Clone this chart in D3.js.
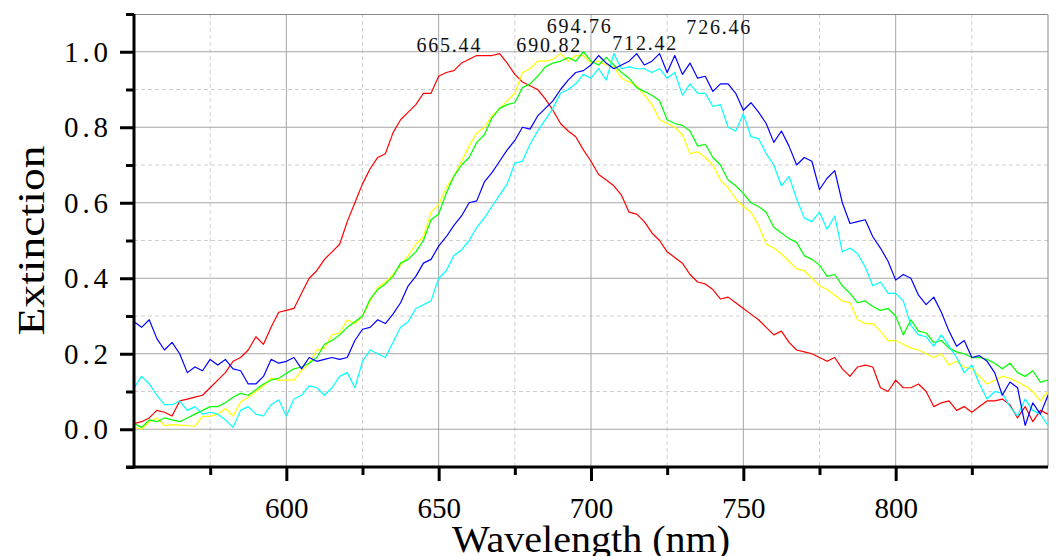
<!DOCTYPE html>
<html>
<head>
<meta charset="utf-8">
<script src="https://cdn.jsdelivr.net/npm/d3@7"></script>
<style>
  body { margin: 0; background: #fff; }
  svg { display: block; font-family: "Liberation Serif", "DejaVu Serif", serif; }
</style>
</head>
<body>
<svg id="chart" width="1056" height="556"></svg>
<script>
// wavelength samples (nm)
const wavelengths = [550,552.5,555,557.5,560,562.5,565,567.5,570,572.5,575,577.5,580,582.5,585,587.5,590,592.5,595,597.5,600,
  602.5,605,607.5,610,612.5,615,617.5,620,622.5,625,627.5,630,632.5,635,637.5,640,642.5,645,647.5,650,
  652.5,655,657.5,660,662.5,665,667.5,670,672.5,675,677.5,680,682.5,685,687.5,690,692.5,695,697.5,700,
  702.5,705,707.5,710,712.5,715,717.5,720,722.5,725,727.5,730,732.5,735,737.5,740,742.5,745,747.5,750,
  752.5,755,757.5,760,762.5,765,767.5,770,772.5,775,777.5,780,782.5,785,787.5,790,792.5,795,797.5,800,
  802.5,805,807.5,810,812.5,815,817.5,820,822.5,825,827.5,830,832.5,835,837.5,840,842.5,845,847.5,850];

// extinction, one list per curve
const redValues = [0.015,0.02,0.03,0.05,0.045,0.035,0.075,0.08,0.085,0.09,0.11,0.13,0.15,0.18,0.19,0.21,0.245,0.225,0.27,0.31,0.315,
  0.32,0.36,0.40,0.42,0.45,0.47,0.49,0.55,0.60,0.65,0.69,0.72,0.73,0.785,0.82,0.84,0.86,0.89,0.89,0.935,
  0.945,0.95,0.97,0.98,0.99,0.99,0.99,0.995,0.97,0.94,0.92,0.91,0.90,0.875,0.845,0.81,0.79,0.775,0.74,0.71,
  0.675,0.66,0.645,0.62,0.575,0.57,0.55,0.52,0.50,0.47,0.455,0.44,0.41,0.39,0.385,0.37,0.345,0.35,0.335,0.32,
  0.305,0.29,0.27,0.25,0.26,0.23,0.21,0.205,0.20,0.19,0.18,0.19,0.16,0.14,0.165,0.17,0.165,0.11,0.10,0.13,
  0.11,0.11,0.12,0.10,0.06,0.07,0.075,0.05,0.06,0.045,0.06,0.075,0.075,0.08,0.065,0.03,0.06,0.02,0.05,0.04];
const yellowValues = [0.005,0.0,0.02,0.03,0.01,0.012,0.011,0.01,0.008,0.034,0.034,0.04,0.055,0.035,0.072,0.085,0.10,0.115,0.135,0.13,0.13,
  0.13,0.155,0.175,0.21,0.215,0.25,0.255,0.29,0.28,0.30,0.34,0.375,0.39,0.41,0.435,0.46,0.49,0.51,0.575,0.595,
  0.64,0.67,0.71,0.75,0.785,0.80,0.83,0.85,0.87,0.89,0.945,0.955,0.975,0.975,0.98,0.995,0.975,0.99,0.99,0.97,
  0.975,0.965,0.96,0.93,0.92,0.91,0.885,0.86,0.82,0.81,0.80,0.78,0.73,0.735,0.72,0.70,0.66,0.64,0.61,0.59,
  0.575,0.54,0.49,0.48,0.465,0.445,0.425,0.42,0.40,0.38,0.37,0.355,0.34,0.335,0.29,0.28,0.28,0.26,0.235,0.235,
  0.225,0.215,0.21,0.20,0.19,0.20,0.17,0.18,0.165,0.16,0.14,0.12,0.13,0.14,0.135,0.125,0.115,0.10,0.075,0.10];
const greenValues = [0.015,0.005,0.025,0.02,0.03,0.025,0.02,0.03,0.04,0.05,0.06,0.06,0.07,0.085,0.095,0.09,0.105,0.12,0.13,0.135,0.148,
  0.16,0.165,0.175,0.19,0.225,0.235,0.25,0.27,0.285,0.30,0.345,0.37,0.385,0.405,0.44,0.45,0.47,0.50,0.555,0.57,
  0.625,0.67,0.70,0.72,0.76,0.78,0.825,0.85,0.86,0.865,0.905,0.915,0.935,0.96,0.97,0.975,0.985,0.975,1.0,0.975,
  0.965,0.985,0.965,0.945,0.93,0.905,0.895,0.885,0.87,0.82,0.81,0.805,0.79,0.75,0.755,0.72,0.70,0.66,0.645,0.625,
  0.60,0.59,0.575,0.535,0.52,0.505,0.495,0.46,0.45,0.435,0.405,0.41,0.38,0.36,0.335,0.34,0.325,0.315,0.32,0.30,
  0.25,0.29,0.26,0.255,0.23,0.235,0.215,0.205,0.20,0.19,0.19,0.185,0.175,0.16,0.175,0.15,0.14,0.155,0.125,0.13];
const cyanValues = [0.11,0.14,0.12,0.09,0.065,0.065,0.075,0.05,0.06,0.04,0.045,0.04,0.025,0.005,0.05,0.06,0.04,0.035,0.065,0.078,0.035,
  0.08,0.09,0.115,0.11,0.09,0.11,0.14,0.15,0.11,0.18,0.21,0.20,0.19,0.23,0.27,0.285,0.32,0.33,0.34,0.40,
  0.42,0.46,0.475,0.50,0.535,0.56,0.59,0.62,0.65,0.705,0.71,0.755,0.79,0.82,0.85,0.89,0.90,0.915,0.94,0.93,
  0.955,0.925,0.995,0.955,0.96,0.955,0.955,0.945,0.955,0.93,0.945,0.885,0.915,0.89,0.89,0.855,0.86,0.80,0.79,0.835,
  0.775,0.77,0.73,0.70,0.645,0.67,0.61,0.56,0.55,0.575,0.53,0.565,0.47,0.48,0.465,0.43,0.38,0.39,0.36,0.36,
  0.34,0.275,0.25,0.245,0.22,0.25,0.22,0.19,0.15,0.17,0.12,0.08,0.10,0.095,0.06,0.035,0.08,0.05,0.04,0.01];
const blueValues = [0.285,0.27,0.29,0.24,0.21,0.23,0.20,0.15,0.165,0.155,0.185,0.17,0.185,0.16,0.155,0.12,0.12,0.14,0.185,0.175,0.18,
  0.19,0.16,0.19,0.18,0.185,0.19,0.185,0.19,0.235,0.265,0.27,0.29,0.28,0.305,0.335,0.38,0.405,0.44,0.45,0.485,
  0.51,0.54,0.565,0.60,0.605,0.655,0.68,0.71,0.74,0.765,0.80,0.795,0.83,0.85,0.87,0.90,0.925,0.945,0.95,0.965,
  0.99,0.97,0.955,0.965,0.975,0.995,0.965,0.975,0.995,0.945,0.99,0.94,0.97,0.93,0.935,0.895,0.915,0.915,0.89,0.845,
  0.865,0.84,0.81,0.76,0.79,0.75,0.70,0.72,0.71,0.635,0.665,0.685,0.60,0.545,0.55,0.555,0.51,0.48,0.445,0.395,
  0.41,0.40,0.355,0.33,0.35,0.31,0.26,0.22,0.235,0.19,0.195,0.18,0.15,0.09,0.125,0.11,0.01,0.07,0.04,0.09];

const seriesColors = ["#ff0000", "#ffff00", "#00ff00", "#00ffff", "#0000ff"];

// tick values
const xMajorTicks = [600, 650, 700, 750, 800];
const xMinorTicks = [575, 625, 675, 725, 775, 825];
const yMajorTicks = [0, 0.2, 0.4, 0.6, 0.8, 1.0];
const yMinorTicks = [-0.1, 0.1, 0.3, 0.5, 0.7, 0.9, 1.1];

// peak annotations
const peakLabels = ["665.44", "690.82", "694.76", "712.42", "726.46"];
const peakLabelX = [653.2, 686, 696, 717.5, 741.8];
const peakLabelY = [1.0, 1.0, 1.05, 1.005, 1.048];

const margin = {top: 14, right: 8, bottom: 89, left: 134};

function drawChart(){
    const svg = d3.select("#chart");
    const width = +svg.attr("width");
    const height = +svg.attr("height");
    const innerWidth = width - margin.left - margin.right;
    const innerHeight = height - margin.top - margin.bottom;

    const x = d3.scaleLinear().domain([550, 850]).range([0, innerWidth]);
    const y = d3.scaleLinear().domain([-0.1, 1.1]).range([innerHeight, 0]);

    const g = svg.append("g")
        .attr("transform", `translate(${margin.left}, ${margin.top})`);

    // grid - dashed minor first, solid major on top
    g.append("g").selectAll("line")
        .data(xMinorTicks)
        .join("line")
        .attr("x1", d => x(d)).attr("x2", d => x(d))
        .attr("y1", 0).attr("y2", innerHeight)
        .attr("stroke", "#cfcfcf").attr("stroke-dasharray", "4,3");
    g.append("g").selectAll("line")
        .data(yMinorTicks.filter(d => d > -0.1 && d < 1.1))
        .join("line")
        .attr("x1", 0).attr("x2", innerWidth)
        .attr("y1", d => y(d)).attr("y2", d => y(d))
        .attr("stroke", "#cfcfcf").attr("stroke-dasharray", "4,3");
    g.append("g").selectAll("line")
        .data(xMajorTicks)
        .join("line")
        .attr("x1", d => x(d)).attr("x2", d => x(d))
        .attr("y1", 0).attr("y2", innerHeight)
        .attr("stroke", "#a6a6a6");
    g.append("g").selectAll("line")
        .data(yMajorTicks)
        .join("line")
        .attr("x1", 0).attr("x2", innerWidth)
        .attr("y1", d => y(d)).attr("y2", d => y(d))
        .attr("stroke", "#a6a6a6");

    // top and right frame
    g.append("path")
        .attr("d", `M0,0.5H${innerWidth}V${innerHeight}`)
        .attr("fill", "none")
        .attr("stroke", "#888");

    // curves
    g.append("clipPath").attr("id", "plotclip")
        .append("rect").attr("width", innerWidth).attr("height", innerHeight);

    const allSeries = [redValues, yellowValues, greenValues, cyanValues, blueValues];
    const line = d3.line()
        .x((d, i) => x(wavelengths[i]))
        .y(d => y(d));

    g.append("g")
        .attr("clip-path", "url(#plotclip)")
        .selectAll("path")
        .data(allSeries)
        .join("path")
        .attr("d", d => line(d))
        .attr("fill", "none")
        .attr("stroke", (d, i) => seriesColors[i])
        .attr("stroke-width", 1.2)
        .attr("stroke-linejoin", "round");

    // axes - minor ticks
    g.append("g")
        .attr("transform", `translate(0, ${innerHeight})`)
        .call(d3.axisBottom(x).tickValues(xMinorTicks).tickSize(8).tickFormat(""))
        .call(a => a.select(".domain").remove())
        .selectAll("line").attr("stroke-width", 3);
    g.append("g")
        .call(d3.axisLeft(y).tickValues(yMinorTicks).tickSize(8).tickFormat(""))
        .call(a => a.select(".domain").remove())
        .selectAll("line").attr("stroke-width", 3);

    // axes - major ticks with labels
    const xAxis = g.append("g")
        .attr("transform", `translate(0, ${innerHeight})`)
        .call(d3.axisBottom(x).tickValues(xMajorTicks).tickSize(14).tickPadding(16).tickFormat(d3.format("d")));
    xAxis.select(".domain").attr("d", `M-8,0H${innerWidth}`).attr("stroke-width", 3);
    xAxis.selectAll("line").attr("stroke-width", 3);
    xAxis.selectAll("text")
        .attr("font-family", "Liberation Serif")
        .attr("font-size", 29)
        .attr("fill", "#000");

    const yAxis = g.append("g")
        .call(d3.axisLeft(y).tickValues(yMajorTicks).tickSize(14).tickPadding(12).tickFormat(d3.format(".1f")));
    yAxis.select(".domain").attr("d", `M0,0V${innerHeight + 1.5}`).attr("stroke-width", 3);
    yAxis.selectAll("line").attr("stroke-width", 3);
    yAxis.selectAll("text")
        .attr("font-family", "Liberation Serif")
        .attr("font-size", 29)
        .attr("fill", "#000")
        .attr("textLength", 44)
        .attr("lengthAdjust", "spacing");

    // axis titles
    svg.append("text")
        .attr("x", margin.left + innerWidth / 2)
        .attr("y", 552)
        .attr("text-anchor", "middle")
        .attr("font-size", 37)
        .attr("textLength", 278)
        .attr("lengthAdjust", "spacingAndGlyphs")
        .text("Wavelength (nm)");

    svg.append("text")
        .attr("transform", `translate(44, ${margin.top + innerHeight / 2}) rotate(-90)`)
        .attr("text-anchor", "middle")
        .attr("font-size", 37)
        .attr("textLength", 190)
        .attr("lengthAdjust", "spacingAndGlyphs")
        .text("Extinction");

    // peak labels
    g.append("g").selectAll("text")
        .data(peakLabels)
        .join("text")
        .attr("x", (d, i) => x(peakLabelX[i]))
        .attr("y", (d, i) => y(peakLabelY[i]))
        .attr("text-anchor", "middle")
        .attr("font-size", 20)
        .attr("textLength", 64)
        .attr("lengthAdjust", "spacing")
        .attr("fill", "#111")
        .text(d => d);
}

drawChart();
</script>
</body>
</html>
